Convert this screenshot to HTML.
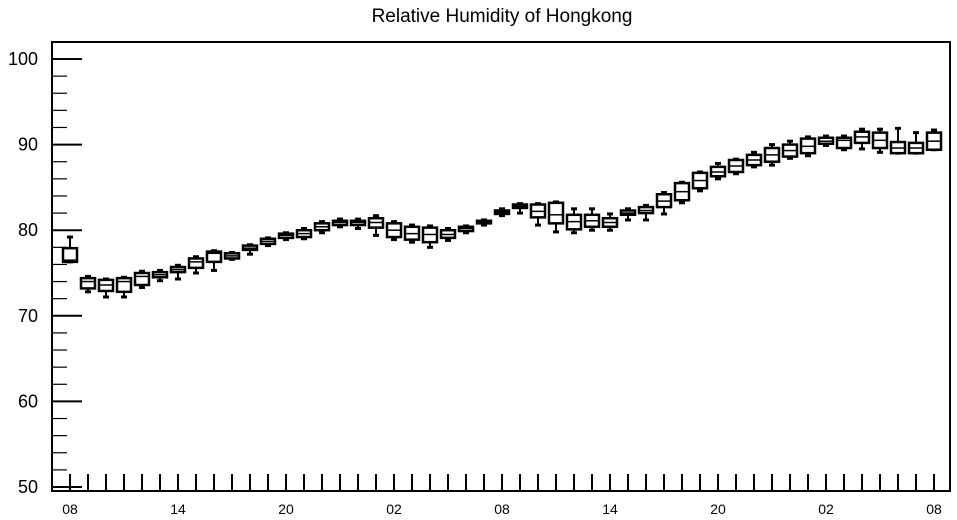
<!DOCTYPE html>
<html><head><meta charset="utf-8"><style>
body{margin:0;background:#fff;}
svg{display:block;font-family:"Liberation Sans",sans-serif;}
</style></head><body>
<svg id="chart" width="957" height="520">
<text x="502" y="22" text-anchor="middle" font-size="19">Relative Humidity of Hongkong</text>
<g id="axes"></g>
<g id="boxes"></g>
</svg>
<script>
const hourLabels = ["08","14","20","02","08","14","20","02","08"];
const yTicks = [50,60,70,80,90,100];
const q3s  = [77.9,74.4,74.2,74.4,75.0,75.1,75.7,76.7,77.5,77.3,78.2,79.0,79.6,80.0,80.8,81.1,81.1,81.4,80.8,80.4,80.3,80.0,80.4,81.1,82.3,83.0,83.0,83.2,81.8,81.8,81.4,82.3,82.7,84.2,85.5,86.7,87.4,88.2,88.8,89.6,90.0,90.7,90.8,90.8,91.5,91.4,90.3,90.2,91.4];
const q1s  = [76.3,73.2,72.9,72.8,73.6,74.5,75.1,75.6,76.3,76.7,77.7,78.4,79.1,79.2,80.0,80.6,80.6,80.3,79.2,78.9,78.6,79.1,79.9,80.8,81.9,82.6,81.5,80.8,80.1,80.4,80.4,81.8,82.0,82.7,83.5,84.9,86.3,86.8,87.6,88.0,88.6,89.0,90.1,89.6,90.2,89.6,89.0,89.0,89.4];
const meds = [76.5,74.0,73.6,74.0,74.6,74.8,75.4,76.3,77.3,77.0,77.9,78.7,79.4,79.6,80.4,80.9,80.9,80.9,80.0,79.6,79.5,79.5,80.2,80.9,82.1,82.8,82.2,81.8,81.0,81.1,80.9,82.0,82.3,83.4,84.5,85.8,86.8,87.5,88.2,88.8,89.3,89.8,90.4,90.5,90.9,90.5,89.6,89.6,90.4];
const maxs = [79.2,74.6,74.3,74.5,75.2,75.3,75.9,76.9,77.6,77.4,78.3,79.1,79.7,80.2,81.0,81.3,81.3,81.7,81.0,80.6,80.5,80.2,80.5,81.2,82.5,83.1,83.1,83.3,82.5,82.5,81.9,82.5,82.9,84.4,85.6,86.8,87.8,88.3,89.1,90.0,90.4,90.9,91.0,91.0,91.8,91.8,91.9,91.4,91.7];
const mins = [76.3,72.8,72.2,72.2,73.3,74.1,74.3,75.0,75.3,76.6,77.2,78.2,78.9,79.0,79.7,80.4,80.2,79.4,78.9,78.6,78.0,78.8,79.7,80.6,81.7,82.0,80.6,79.8,79.7,80.0,80.0,81.2,81.2,81.9,83.2,84.6,86.0,86.6,87.4,87.6,88.4,88.7,89.9,89.4,89.5,89.1,89.0,89.0,89.4];

const X0=52,X1=950,Y0=42,Y1=491;
const xs=i=>70+18*i;
const ys=v=>487-(v-50)*8.56;
const NS="http://www.w3.org/2000/svg";
function mk(tag,attrs,parent){const e=document.createElementNS(NS,tag);for(const k in attrs)e.setAttribute(k,attrs[k]);parent.appendChild(e);return e;}
const ax=document.getElementById('axes');
const frame=mk('rect',{x:X0,y:Y0,width:X1-X0,height:Y1-Y0,fill:'none',stroke:'#000','stroke-width':2},ax);


for(let v=50;v<=102;v+=2){
  const major=v%10===0;
  const t=mk('line',{x1:X0,x2:X0+(major?30:15),y1:ys(v),y2:ys(v),stroke:'#000','stroke-width':major?2:1.2},ax);
  
  
}
yTicks.forEach(v=>{
  const t=mk('text',{x:38,y:ys(v)+6,'text-anchor':'end','font-size':18},ax);
  t.textContent=v;
  
  
});
for(let i=0;i<q3s.length;i++){
  const t=mk('line',{x1:xs(i),x2:xs(i),y1:Y1,y2:Y1-17,stroke:'#000','stroke-width':2},ax);
  
  
}
hourLabels.forEach((s,k)=>{
  const t=mk('text',{x:xs(k*6),y:514,'text-anchor':'middle','font-size':14},ax);
  t.textContent=s;
  
  
});
const bx=document.getElementById('boxes');
for(let i=0;i<q3s.length;i++){
  const g=mk('g',{},bx);
  
  
  const x=xs(i);
  mk('line',{x1:x,x2:x,y1:ys(maxs[i]),y2:ys(mins[i]),stroke:'#000','stroke-width':2},g);
  mk('line',{x1:x-3,x2:x+3,y1:ys(maxs[i]),y2:ys(maxs[i]),stroke:'#000','stroke-width':3},g);
  mk('line',{x1:x-3,x2:x+3,y1:ys(mins[i]),y2:ys(mins[i]),stroke:'#000','stroke-width':3},g);
  const top=ys(q3s[i]),bot=ys(q1s[i]);
  mk('rect',{x:x-7,y:top,width:14,height:Math.max(bot-top,1),fill:'#fff',stroke:'#000','stroke-width':2.5},g);
  mk('line',{x1:x-7,x2:x+7,y1:ys(meds[i]),y2:ys(meds[i]),stroke:'#000','stroke-width':1.5},g);
}
</script>
</body></html>
